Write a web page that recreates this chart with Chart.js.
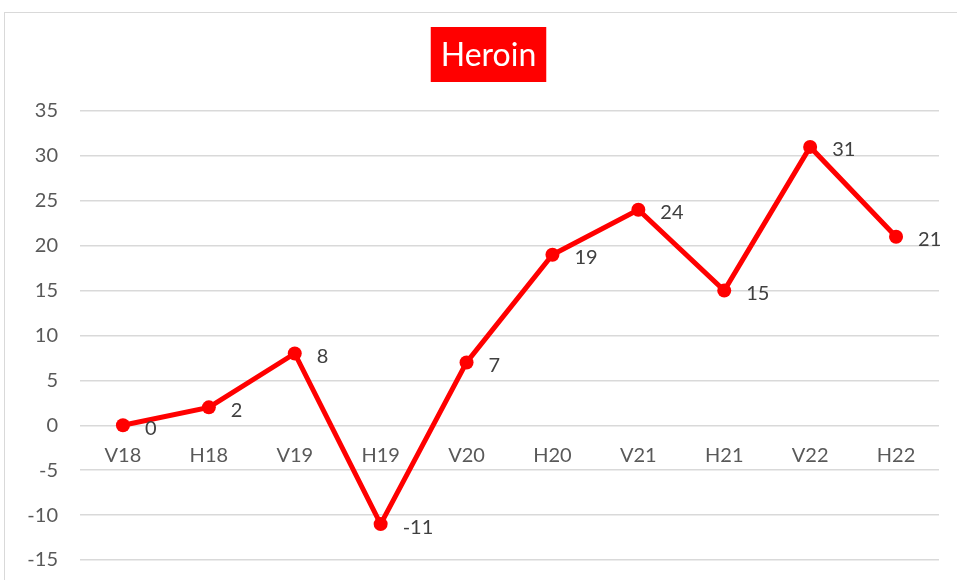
<!DOCTYPE html>
<html lang="no">
<head>
  <meta charset="utf-8">
  <title>Heroin</title>
  <script src="https://cdn.jsdelivr.net/npm/chart.js@4"></script>
  <style>
    html, body { margin: 0; padding: 0; background: #fff; overflow: hidden; }
    canvas { display: block; }
  </style>
</head>
<body>
  <canvas id="chart-0" width="957" height="580"></canvas>

  <script>
    let labels = ['V18', 'H18', 'V19', 'H19', 'V20', 'H20', 'V21', 'H21', 'V22', 'H22'];
    let values = [0, 2, 8, -11, 7, 19, 24, 15, 31, 21];
    let yTicks = [-15, -10, -5, 0, 5, 10, 15, 20, 25, 30, 35];

    let titleText = 'Heroin';
    let fontFamily = 'Lato, "Open Sans", sans-serif';

    // frame + red title box
    let decor = {
      id: 'decor',
      beforeDraw(chart) {
        let ctx = chart.ctx;
        ctx.save();
        ctx.fillStyle = '#fff';
        ctx.fillRect(0, 0, chart.width, chart.height);
        ctx.strokeStyle = '#d9d9d9';
        ctx.lineWidth = 1;
        ctx.strokeRect(4.5, 12.5, chart.width + 10, chart.height + 10);
        ctx.restore();
      },
      afterDraw(chart) {
        let ctx = chart.ctx;
        ctx.save();
        ctx.font = '32px ' + fontFamily;
        let w = ctx.measureText(titleText).width;
        let cx = 488.5;
        ctx.fillStyle = '#ff0000';
        ctx.fillRect(cx - w / 2 - 10, 27, w + 20, 55);
        ctx.fillStyle = '#fff';
        ctx.textAlign = 'center';
        ctx.textBaseline = 'middle';
        ctx.fillText(titleText, cx, 56);
        ctx.restore();
      }
    };

    // value labels to the right of each point
    let valueLabels = {
      id: 'valueLabels',
      afterDatasetsDraw(chart) {
        let ctx = chart.ctx;
        let meta = chart.getDatasetMeta(0);
        ctx.save();
        ctx.font = '20px ' + fontFamily;
        ctx.fillStyle = '#404040';
        ctx.textAlign = 'left';
        ctx.textBaseline = 'middle';
        meta.data.forEach(function(pt, i) {
          ctx.fillText(String(values[i]), pt.x + 22, pt.y + 3);
        });
        ctx.restore();
      }
    };

    let chart = new Chart('chart-0', {
      type: 'line',
      data: {
        labels: labels,
        datasets: [{
          label: titleText,
          data: values,
          borderColor: '#ff0000',
          backgroundColor: '#ff0000',
          borderWidth: 5,
          pointRadius: 7,
          pointHoverRadius: 7,
          pointBorderWidth: 0,
          tension: 0
        }]
      },
      options: {
        responsive: false,
        animation: false,
        layout: {
          padding: { top: 111, bottom: 20, right: 18, left: 0 }
        },
        plugins: {
          legend: { display: false },
          title: { display: false },
          tooltip: { enabled: false }
        },
        scales: {
          x: {
            position: { y: 0 },
            offset: true,
            afterFit(scale) { scale.height = 0; },
            grid: { display: false, drawTicks: false },
            border: { display: false },
            ticks: {
              padding: 18,
              color: '#595959',
              font: { family: fontFamily, size: 20 },
              maxRotation: 0
            }
          },
          y: {
            min: -15,
            max: 35,
            afterFit(scale) {
              scale.width = 80;
              scale.paddingTop = 0;
              scale.paddingBottom = 0;
            },
            afterBuildTicks(scale) {
              scale.ticks = yTicks.map(v => ({ value: v }));
            },
            grid: { color: '#d9d9d9', lineWidth: 1.5, drawTicks: false },
            border: { display: false },
            ticks: {
              padding: 22,
              color: '#595959',
              font: { family: fontFamily, size: 20 }
            }
          }
        }
      },
      plugins: [decor, valueLabels]
    });
  </script>
</body>
</html>
